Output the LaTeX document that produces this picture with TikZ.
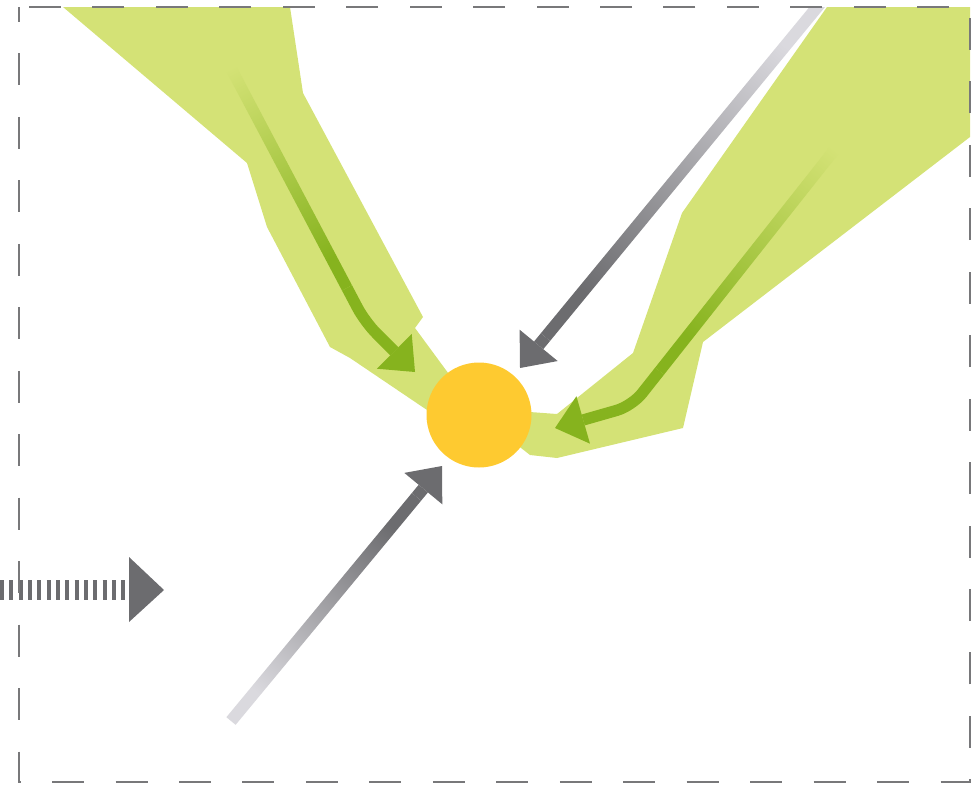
\documentclass[tikz,border=0pt]{standalone}
\usetikzlibrary{arrows.meta,calc}

\definecolor{leafgreen}{RGB}{212,226,118}
\definecolor{flowgreen}{RGB}{134,179,30}
\definecolor{sungold}{RGB}{254,202,48}
\definecolor{steeldark}{RGB}{108,108,111}
\definecolor{steellight}{RGB}{218,217,222}
\definecolor{framegray}{RGB}{120,120,122}

\begin{document}
\begin{tikzpicture}[
    x=0.75pt, y=-0.75pt,
    band/.style={fill=leafgreen},
    ball/.style={circle, fill=sungold, minimum size=78.75pt, inner sep=0pt},
    tipstyle/.style={-{Triangle[length=22pt, width=37pt, line width=0pt]}},
    greyflow/.style={line width=9pt, steeldark, tipstyle},
    greenflow/.style={line width=8.5pt, flowgreen, tipstyle, rounded corners=12pt},
    frame/.style={draw=framegray, line width=1.9pt, dash pattern=on 24pt off 23.6pt, dash phase=12.75pt}
]

    % Half widths of the shaded shafts
    \def\greyhalf{4.5pt}
    \def\greenhalf{4.25pt}

    \useasboundingbox (0,0) rectangle (973,786);

    % Points the flows run between
    \coordinate (centre) at (479,415);
    \coordinate (upTail) at (231,721);
    \coordinate (upTip) at (442,466);
    \coordinate (downTail) at (823,0);
    \coordinate (downTip) at (520,368);
    \coordinate (leftStart) at (215,38);
    \coordinate (leftBend) at (365,322);
    \coordinate (leftTip) at (415,372);
    \coordinate (rightStart) at (862,115);
    \coordinate (rightBend) at (632,406);
    \coordinate (rightTip) at (555,428);
    \coordinate (feedStart) at (0,590);
    \coordinate (feedEnd) at (125,590);
    \coordinate (feedTip) at (164,590);

    \begin{scope}
    \clip (19,7) rectangle (970,782);

    % Green bands
    \fill[band] (63,7) -- (290,7) -- (303,93) -- (423,317) -- (415,328) -- (centre)
        -- (427,410) -- (350,358) -- (330,347) -- (267,227) -- (247,163) -- cycle;
    \fill[band] (827,7) -- (970,7) -- (970,137) -- (703,342) -- (683,428) -- (557,458)
        -- (530,455) -- (centre) -- (530,412) -- (557,414) -- (633,353) -- (682,213) -- cycle;

    % Green flows, fading in from the top
    \coordinate (leftNeck) at ($(leftStart)!0.88!(leftBend)$);
    \shade[bottom color=leafgreen, top color=flowgreen, shading angle=-152.2]
        ($(leftStart)!\greenhalf!90:(leftNeck)$) -- ($(leftStart)!\greenhalf!-90:(leftNeck)$)
        -- ($(leftNeck)!\greenhalf!90:(leftStart)$) -- ($(leftNeck)!\greenhalf!-90:(leftStart)$) -- cycle;
    \draw[greenflow] (leftNeck) -- (leftBend) -- (leftTip);

    \coordinate (rightNeck) at ($(rightStart)!0.88!(rightBend)$);
    \shade[bottom color=leafgreen, top color=flowgreen, shading angle=141.6]
        ($(rightStart)!\greenhalf!90:(rightNeck)$) -- ($(rightStart)!\greenhalf!-90:(rightNeck)$)
        -- ($(rightNeck)!\greenhalf!90:(rightStart)$) -- ($(rightNeck)!\greenhalf!-90:(rightStart)$) -- cycle;
    \draw[greenflow] (rightNeck) -- (rightBend) -- (rightTip);

    % Grey flows
    \coordinate (upNeck) at ($(upTip)!30pt!(upTail)$);
    \shade[bottom color=steellight, top color=steeldark, shading angle=-39.6]
        ($(upTail)!\greyhalf!90:(upNeck)$) -- ($(upTail)!\greyhalf!-90:(upNeck)$)
        -- ($(upNeck)!\greyhalf!90:(upTail)$) -- ($(upNeck)!\greyhalf!-90:(upTail)$) -- cycle;
    \draw[greyflow] (upNeck) -- (upTip);

    \coordinate (downNeck) at ($(downTip)!30pt!(downTail)$);
    \shade[bottom color=steellight, top color=steeldark, shading angle=140.5]
        ($(downTail)!\greyhalf!90:(downNeck)$) -- ($(downTail)!\greyhalf!-90:(downNeck)$)
        -- ($(downNeck)!\greyhalf!90:(downTail)$) -- ($(downNeck)!\greyhalf!-90:(downTail)$) -- cycle;
    \draw[greyflow] (downNeck) -- (downTip);

    % Centre ball
    \node[ball] (ball) at (centre) {};
    \end{scope}

    % Striped feed arrow on the left
    \draw[steeldark, line width=14.5pt, dash pattern=on 3pt off 4pt] (feedStart) -- (feedEnd);
    \fill[steeldark] (feedTip) -- ++(-35,-33) -- ++(0,65) -- cycle;

    % Dashed frame
    \draw[frame] (19,7) rectangle (970,782);

\end{tikzpicture}
\end{document}
